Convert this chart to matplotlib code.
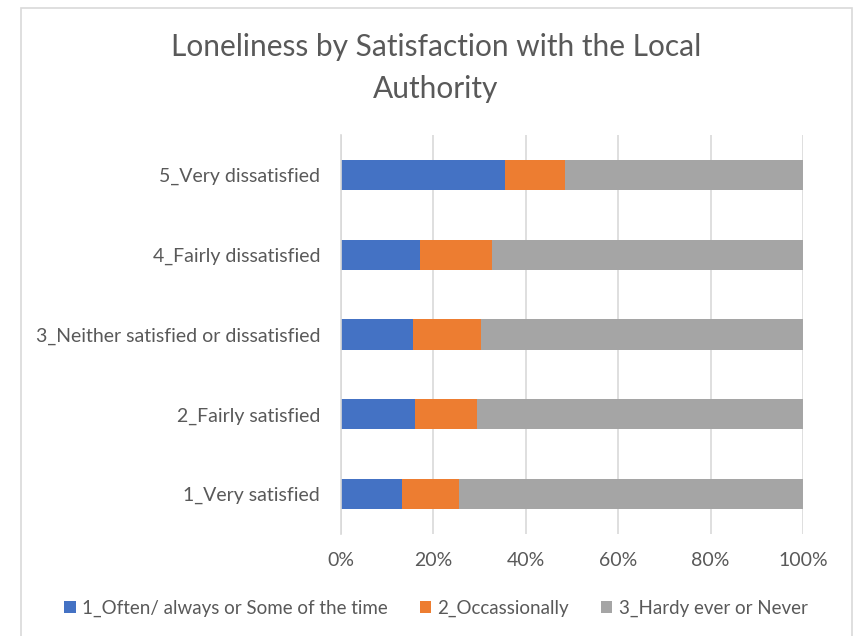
import matplotlib
matplotlib.use('Agg')
import matplotlib.pyplot as plt
from matplotlib.patches import Rectangle
from matplotlib.ticker import PercentFormatter

categories = ["1_Very satisfied", "2_Fairly satisfied",
              "3_Neither satisfied or dissatisfied",
              "4_Fairly dissatisfied", "5_Very dissatisfied"]
series_names = ["1_Often/ always or Some of the time",
                "2_Occassionally", "3_Hardy ever or Never"]
often = [13.3, 16.0, 15.5, 17.2, 35.5]
occasionally = [12.3, 13.4, 14.9, 15.4, 13.0]
hardly = [74.4, 70.6, 69.6, 67.4, 51.5]
colors = ["#4472C4", "#ED7D31", "#A5A5A5"]

plt.rcParams["font.family"] = ["Lato", "DejaVu Sans"]
text_color = "#595959"

fig = plt.figure(figsize=(8.54, 6.36), dpi=100)
W, H = 854, 636
ax = fig.add_axes([341 / W, (H - 534) / H, (803 - 341) / W, (534 - 135) / H])

# chart border
fig.patches.append(Rectangle((21 / W, -0.01), (852 - 21) / W, 1 - 8 / H + 0.01,
                             transform=fig.transFigure, fill=False,
                             edgecolor="#d9d9d9", linewidth=1.2))

y = list(range(len(categories)))
left = [0] * len(categories)
for vals, name, c in zip([often, occasionally, hardly], series_names, colors):
    ax.barh(y, vals, left=left, height=0.38, color=c, label=name)
    left = [a + b for a, b in zip(left, vals)]

ax.set_xlim(0, 100)
ax.set_ylim(-0.5, 4.5)
ax.set_xticks([0, 20, 40, 60, 80, 100])
ax.xaxis.set_major_formatter(PercentFormatter(decimals=0))
ax.set_yticks(y)
ax.set_yticklabels(categories)
ax.grid(axis="x", color="#d9d9d9", linewidth=1.2)
ax.set_axisbelow(True)
for s in ["top", "right", "bottom"]:
    ax.spines[s].set_visible(False)
ax.spines["left"].set_color("#d9d9d9")
ax.spines["left"].set_linewidth(1.2)
ax.tick_params(length=0, labelsize=14, labelcolor=text_color)
ax.tick_params(axis="x", pad=13)
ax.tick_params(axis="y", pad=15)

fig.text(436 / W, 1 - 68 / H, "Loneliness by Satisfaction with the Local\nAuthority",
         ha="center", va="center", fontsize=21.5, color=text_color,
         linespacing=1.6)

fig.legend(loc="center", bbox_to_anchor=(436 / W, 1 - 608 / H), ncol=3,
           frameon=False, fontsize=13.5, labelcolor=text_color,
           handlelength=0.6, handleheight=0.6, handletextpad=0.35,
           columnspacing=1.7)

fig.savefig("out.png", dpi=100, facecolor="white")
